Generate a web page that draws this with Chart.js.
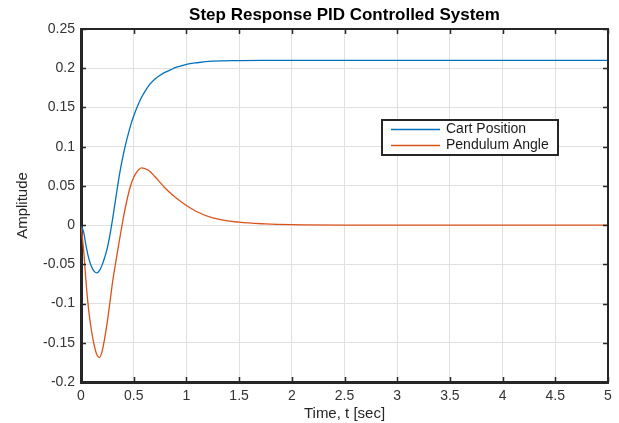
<!DOCTYPE html>
<html>
<head>
<meta charset="utf-8">
<script src="https://cdn.jsdelivr.net/npm/chart.js@4.4.1/dist/chart.umd.min.js"></script>
<style>
  html, body { margin: 0; padding: 0; background: #fff; }
  #wrap { width: 619px; height: 423px; }
</style>
</head>
<body>
<div id="wrap"><canvas id="stepChart" width="619" height="423"></canvas></div>
<script>
// values
const timeSec = [0, 0.025, 0.05, 0.075, 0.1, 0.125, 0.15, 0.175, 0.2, 0.225, 0.25, 0.275, 0.3, 0.325, 0.35, 0.375, 0.4, 0.425, 0.45, 0.475, 0.5, 0.525, 0.55, 0.575, 0.6, 0.65, 0.7, 0.75, 0.8, 0.85, 0.9, 0.95, 1.0, 1.1, 1.25, 1.5, 1.75, 2.0, 2.5, 3, 4, 5];
const cartPosition = [0, -0.009, -0.028, -0.043, -0.053, -0.059, -0.061, -0.058, -0.051, -0.041, -0.029, -0.012, 0.008, 0.030, 0.052, 0.072, 0.089, 0.104, 0.117, 0.129, 0.139, 0.148, 0.156, 0.163, 0.169, 0.179, 0.186, 0.191, 0.195, 0.198, 0.201, 0.203, 0.205, 0.207, 0.209, 0.2098, 0.21, 0.21, 0.21, 0.21, 0.21, 0.21];
const pendulumAngle = [0, -0.032, -0.076, -0.111, -0.135, -0.153, -0.165, -0.169, -0.161, -0.144, -0.123, -0.098, -0.072, -0.051, -0.031, -0.011, 0.008, 0.025, 0.040, 0.052, 0.061, 0.067, 0.071, 0.073, 0.0722, 0.069, 0.062, 0.0545, 0.047, 0.0405, 0.0348, 0.0297, 0.025, 0.017, 0.0092, 0.0037, 0.0015, 0.0005, 0, 0, 0, 0];
const seriesLabels = ['Cart Position', 'Pendulum Angle'];
const xTicks = [0, 0.5, 1, 1.5, 2, 2.5, 3, 3.5, 4, 4.5, 5];
const yTicks = [-0.2, -0.15, -0.1, -0.05, 0, 0.05, 0.1, 0.15, 0.2, 0.25];

function fmt(v) {
	return parseFloat(Number(v).toFixed(2)).toString();
}
function toPoints(ys) {
	return timeSec.map(function(t, i) { return {x: t, y: ys[i]}; });
}

// box round the plot with inward ticks, like matlab
const framePlugin = {
	id: 'frame',
	afterDatasetsDraw(chart) {
		const ctx = chart.ctx;
		const a = chart.chartArea;
		const xs = chart.scales.x, ys = chart.scales.y;
		ctx.save();
		ctx.strokeStyle = '#262626';
		ctx.lineWidth = 2;
		ctx.beginPath();
		ctx.moveTo(a.left, a.top); ctx.lineTo(a.right, a.top); ctx.lineTo(a.right, a.bottom);
		ctx.stroke();
		ctx.lineWidth = 1.5;
		ctx.beginPath();
		xs.ticks.forEach(function(t) {
			const px = Math.round(xs.getPixelForValue(t.value)) + 0.5;
			ctx.moveTo(px, a.bottom); ctx.lineTo(px, a.bottom - 5);
			ctx.moveTo(px, a.top); ctx.lineTo(px, a.top + 5);
		});
		ys.ticks.forEach(function(t) {
			const py = Math.round(ys.getPixelForValue(t.value)) + 0.5;
			ctx.moveTo(a.left, py); ctx.lineTo(a.left + 5, py);
			ctx.moveTo(a.right, py); ctx.lineTo(a.right - 5, py);
		});
		ctx.stroke();
		ctx.restore();
	}
};

// legend box inside the plot
const boxLegend = {
	id: 'boxLegend',
	afterDraw(chart) {
		const ctx = chart.ctx;
		const bx = 382, by = 120, bw = 176, bh = 35;
		ctx.save();
		ctx.fillStyle = '#fff';
		ctx.fillRect(bx, by, bw, bh);
		ctx.strokeStyle = '#262626';
		ctx.lineWidth = 2;
		ctx.strokeRect(bx, by, bw, bh);
		ctx.font = '14px "Liberation Sans", Arial, sans-serif';
		ctx.textBaseline = 'middle';
		chart.data.datasets.forEach(function(ds, i) {
			const y = by + 9.5 + i * 16;
			ctx.strokeStyle = ds.borderColor;
			ctx.lineWidth = 1.3;
			ctx.beginPath();
			ctx.moveTo(bx + 9, y); ctx.lineTo(bx + 58, y);
			ctx.stroke();
			ctx.fillStyle = '#1a1a1a';
			ctx.fillText(ds.label, bx + 64, y);
		});
		ctx.restore();
	}
};

const tickFont = {family: '"Liberation Sans", Arial, sans-serif', size: 14};
const labelFont = {family: '"Liberation Sans", Arial, sans-serif', size: 15};

new Chart(document.getElementById('stepChart'), {
	type: 'line',
	data: {
		datasets: [{
			label: seriesLabels[0],
			data: toPoints(cartPosition),
			borderColor: '#0072BD',
			borderWidth: 1.3,
			pointRadius: 0,
			cubicInterpolationMode: 'monotone'
		}, {
			label: seriesLabels[1],
			data: toPoints(pendulumAngle),
			borderColor: '#D95319',
			borderWidth: 1.3,
			pointRadius: 0,
			cubicInterpolationMode: 'monotone'
		}]
	},
	options: {
		responsive: false,
		animation: false,
		layout: { padding: {left: 0, right: 11, top: 0, bottom: 0} },
		plugins: {
			legend: { display: false },
			tooltip: { enabled: false },
			title: {
				display: true,
				fullSize: false,
				text: 'Step Response PID Controlled System',
				color: '#000',
				font: {family: '"Liberation Sans", Arial, sans-serif', size: 17, weight: 'bold'},
				padding: {top: 5, bottom: 3.6}
			}
		},
		scales: {
			x: {
				type: 'linear',
				min: 0, max: 5,
				afterBuildTicks: function(s) { s.ticks = xTicks.map(function(v) { return {value: v}; }); },
				afterFit: function(s) { s.height = 41; },
				ticks: { callback: fmt, font: tickFont, color: '#333', padding: 6, maxRotation: 0, autoSkip: false },
				grid: { color: '#e0e0e0', lineWidth: 1, drawTicks: false },
				border: { display: true, color: '#262626', width: 3 },
				title: { display: true, text: 'Time, t [sec]', font: labelFont, color: '#262626', padding: {top: 0, bottom: 0} }
			},
			y: {
				min: -0.2, max: 0.25,
				afterBuildTicks: function(s) { s.ticks = yTicks.map(function(v) { return {value: v}; }); },
				afterFit: function(s) { s.width = 81; },
				ticks: { callback: fmt, font: tickFont, color: '#333', padding: 6, autoSkip: false },
				grid: { color: '#e0e0e0', lineWidth: 1, drawTicks: false },
				border: { display: true, color: '#262626', width: 3 },
				title: { display: true, text: 'Amplitude', font: labelFont, color: '#262626', padding: {top: 14, bottom: 0} }
			}
		}
	},
	plugins: [framePlugin, boxLegend]
});
</script>
</body>
</html>
